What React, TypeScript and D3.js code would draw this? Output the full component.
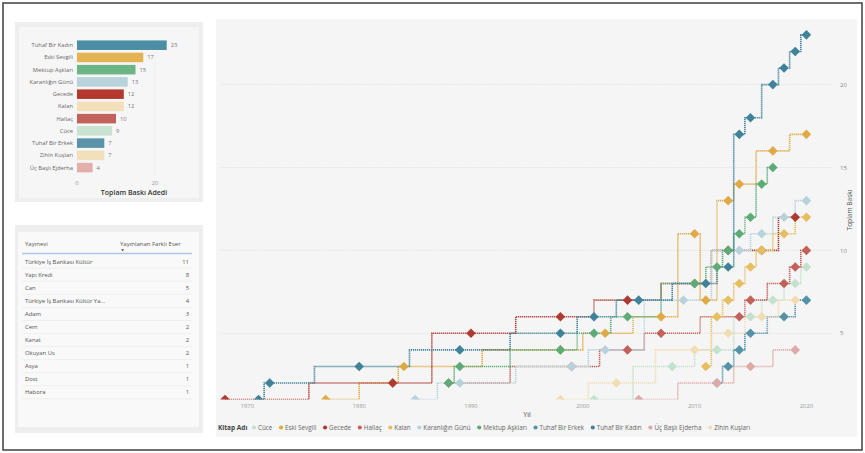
import React from "react";
import * as d3 from "d3";

// ---------- Bar chart data ----------
const barCategories = ["Tuhaf Bir Kadın", "Eski Sevgili", "Mektup Aşkları", "Karanlığın Günü", "Gecede", "Kalan", "Hallaç", "Cüce", "Tuhaf Bir Erkek", "Zihin Kuşları", "Üç Başlı Ejderha"];
const barValues = [23, 17, 15, 13, 12, 12, 10, 9, 7, 7, 4];
const barTicks = [0, 20];

// ---------- Table data ----------
const publishers = ["Türkiye İş Bankası Kültür", "Yapı Kredi", "Can", "Türkiye İş Bankası Kültür Ya...", "Adam", "Cem", "Kanat", "Okuyan Us", "Asya", "Dost", "Habora"];
const publisherCounts = [11, 8, 5, 4, 3, 2, 2, 2, 1, 1, 1];

// ---------- Line chart data (year, Toplam Baskı) ----------
const seriesNames = ["Cüce", "Eski Sevgili", "Gecede", "Hallaç", "Kalan", "Karanlığın Günü", "Mektup Aşkları", "Tuhaf Bir Erkek", "Tuhaf Bir Kadın", "Üç Başlı Ejderha", "Zihin Kuşları"];
const cuce = [[2001, 1], [2008, 3], [2012, 4], [2015, 6], [2017, 7], [2019, 8], [2020, 9]];
const eskiSevgili = [[1977, 1], [1983, 2], [1984, 3], [1998, 4], [2002, 5], [2007, 6], [2010, 11], [2011, 7], [2013, 13], [2014, 14], [2017, 16], [2020, 17]];
const gecede = [[1968, 1], [1983, 2], [1990, 5], [1998, 6], [2004, 7], [2010, 8], [2013, 10], [2016, 10], [2019, 12]];
const hallac = [[1988, 2], [1999, 3], [2004, 4], [2007, 5], [2014, 6], [2015, 7], [2018, 8], [2019, 9], [2020, 10]];
const kalan = [[2011, 3], [2012, 6], [2013, 7], [2014, 8], [2015, 9], [2016, 10], [2018, 11], [2020, 12]];
const karanligin = [[1985, 1], [1989, 2], [1999, 3], [2002, 4], [2009, 7], [2014, 10], [2016, 11], [2018, 12], [2020, 13]];
const mektup = [[1988, 2], [1989, 3], [1998, 4], [2001, 5], [2004, 6], [2010, 8], [2012, 9], [2013, 10], [2014, 11], [2015, 12], [2016, 14], [2017, 15]];
const tuhafErkek = [[2012, 2], [2013, 3], [2014, 4], [2015, 5], [2018, 6], [2020, 7]];
const tuhafKadin = [[1971, 1], [1972, 2], [1980, 3], [1989, 4], [1998, 5], [2001, 6], [2005, 7], [2011, 8], [2013, 9], [2014, 17], [2015, 18], [2017, 20], [2018, 21], [2019, 22], [2020, 23]];
const ucBasli = [[2005, 1], [2012, 2], [2015, 3], [2019, 4]];
const zihin = [[1998, 1], [2003, 2], [2010, 4], [2013, 5], [2016, 6], [2019, 7]];
const seriesData = [cuce, eskiSevgili, gecede, hallac, kalan, karanligin, mektup, tuhafErkek, tuhafKadin, ucBasli, zihin];

const xTicks = [1970, 1980, 1990, 2000, 2010, 2020];
const yTicks = [5, 10, 15, 20];

const lineColors: Record<string, string> = {
  "Cüce": "#c3e1cc",
  "Eski Sevgili": "#dfaa45",
  "Gecede": "#ae3b31",
  "Hallaç": "#c2605a",
  "Kalan": "#e6bd5f",
  "Karanlığın Günü": "#b8d2dc",
  "Mektup Aşkları": "#5dab77",
  "Tuhaf Bir Erkek": "#5592a8",
  "Tuhaf Bir Kadın": "#3f8299",
  "Üç Başlı Ejderha": "#e0a9a7",
  "Zihin Kuşları": "#f1ddb4",
};
const barColors: Record<string, string> = {
  "Tuhaf Bir Kadın": "#4b8ea5",
  "Eski Sevgili": "#e4b452",
  "Mektup Aşkları": "#6cb584",
  "Karanlığın Günü": "#b9d3dd",
  "Gecede": "#b3392f",
  "Kalan": "#f3e0ba",
  "Hallaç": "#c3625b",
  "Cüce": "#c8e4d0",
  "Tuhaf Bir Erkek": "#5b93a9",
  "Zihin Kuşları": "#f2dfbb",
  "Üç Başlı Ejderha": "#e3afad",
};

const FONT = "'Open Sans', 'Noto Sans', sans-serif";

function measure(text: string, size: number, weight = "normal") {
  if (typeof document === "undefined") return text.length * size * 0.5;
  const c = document.createElement("canvas");
  const ctx = c.getContext("2d");
  if (!ctx) return text.length * size * 0.5;
  ctx.font = `${weight} ${size}px 'Open Sans'`;
  return ctx.measureText(text).width;
}

function BarPanel() {
  const x = d3.scaleLinear().domain([0, 20]).range([77, 155]);
  const y = d3.scaleBand().domain(barCategories).range([39.2, 173.6]).paddingInner(0.22).paddingOuter(0.1);
  return (
    <g>
      <rect x={15} y={22} width={188} height={180} fill="#eeeeee" />
      <rect x={19} y={27} width={180} height={171} fill="#f6f6f6" />
      {barTicks.map((t) => (
        <line key={t} x1={x(t)} x2={x(t)} y1={38} y2={176} stroke="#e6e6e6" strokeWidth={0.6} strokeDasharray="1,1" />
      ))}
      {barCategories.map((c, i) => (
        <g key={c}>
          <rect x={x(0)} y={y(c)} width={x(barValues[i]) - x(0)} height={y.bandwidth()} fill={barColors[c]} />
          <text x={73} y={(y(c) as number) + y.bandwidth() / 2} dy="0.35em" textAnchor="end" fontSize={5.8} fill="#666" fontFamily={FONT}>{c}</text>
          <text x={x(barValues[i]) + 4} y={(y(c) as number) + y.bandwidth() / 2} dy="0.35em" fontSize={5.8} fill="#777" fontFamily={FONT}>{barValues[i]}</text>
        </g>
      ))}
      {barTicks.map((t) => (
        <text key={t} x={x(t)} y={184.5} textAnchor="middle" fontSize={5.8} fill="#999" fontFamily={FONT}>{t}</text>
      ))}
      <text x={134} y={194.5} textAnchor="middle" fontSize={7} fill="#333" fontFamily={FONT} fontWeight={600}>Toplam Baskı Adedi</text>
    </g>
  );
}

function TablePanel() {
  const rowY = d3.scaleLinear().domain([0, 1]).range([261.7, 274.76]);
  return (
    <g>
      <rect x={15} y={225} width={188} height={208} fill="#eeeeee" />
      <rect x={18} y={232} width={181} height={195} fill="#f9f9f9" />
      <text x={25} y={246} fontSize={6} fill="#555" fontFamily={FONT}>Yayınevi</text>
      <text x={120} y={246} fontSize={6} fill="#555" fontFamily={FONT}>Yayınlanan Farklı Eser</text>
      <path d="M121.2,249.3 L124.2,249.3 L122.7,251.3 Z" fill="#444" />
      <line x1={22} x2={192} y1={253.5} y2={253.5} stroke="#a9c9ee" strokeWidth={1.3} />
      {publishers.map((p, i) => (
        <g key={p}>
          <text x={25} y={rowY(i)} dy="0.35em" fontSize={5.9} fill="#555" fontFamily={FONT}>{p}</text>
          <text x={189} y={rowY(i)} dy="0.35em" textAnchor="end" fontSize={5.9} fill="#555" fontFamily={FONT}>{publisherCounts[i]}</text>
          <line x1={22} x2={192} y1={rowY(i) + 6.5} y2={rowY(i) + 6.5} stroke="#e9e9e9" strokeWidth={0.6} />
        </g>
      ))}
    </g>
  );
}

function LinePanel() {
  const x = d3.scaleLinear().domain([1968, 2020]).range([225, 806.4]);
  const y = d3.scaleLinear().domain([5, 20]).range([333.3, 84.6]);
  const plotLeft = 219;
  const plotRight = 834;
  const plotTop = 22;
  const plotBottom = y(1);
  const line = d3.line<number[]>().x((d) => x(d[0])).y((d) => y(d[1])).curve(d3.curveStep);
  const r = 4.8;
  const diamond = (cx: number, cy: number) => `M${cx},${cy - r}L${cx + r},${cy}L${cx},${cy + r}L${cx - r},${cy}Z`;

  // legend layout
  const legendY = 427.5;
  const legendSize = 6.3;
  let lx = 218;
  const titleW = measure("Kitap Adı", 6.5, "bold");
  lx += titleW + 4;
  const legendItems = seriesNames.map((n) => {
    const item = { name: n, cx: lx + 2.5, tx: lx + 6.5 };
    lx += 6.5 + measure(n, legendSize) + 6.2;
    return item;
  });

  return (
    <g>
      <rect x={216} y={19} width={641} height={418} fill="#f5f5f5" />
      <defs>
        <clipPath id="plotClip">
          <rect x={plotLeft} y={plotTop} width={plotRight - plotLeft} height={plotBottom - plotTop} />
        </clipPath>
      </defs>
      {yTicks.map((t) => (
        <g key={t}>
          <line x1={220} x2={833} y1={y(t)} y2={y(t)} stroke="#dcdcdc" strokeWidth={0.8} strokeDasharray="1,1.2" />
          <text x={840} y={y(t)} dy="0.35em" fontSize={6} fill="#888" fontFamily={FONT}>{t}</text>
        </g>
      ))}
      <text transform={`translate(851.5,210) rotate(-90)`} textAnchor="middle" fontSize={6.6} fill="#555" fontFamily={FONT}>Toplam Baskı</text>
      <g clipPath="url(#plotClip)">
        {seriesNames.map((n, i) => (
          <path key={n} d={line(seriesData[i]) || ""} fill="none" stroke={lineColors[n]} strokeWidth={1.6} strokeDasharray="1.2,0.8" />
        ))}
        {seriesNames.map((n, i) => (
          <g key={n}>
            {seriesData[i].map((d, j) => (
              <path key={j} d={diamond(x(d[0]), y(d[1]))} fill={lineColors[n]} />
            ))}
          </g>
        ))}
      </g>
      {xTicks.map((t) => (
        <text key={t} x={x(t)} y={408} textAnchor="middle" fontSize={5.8} fill="#999" fontFamily={FONT}>{t}</text>
      ))}
      <text x={527} y={416.5} textAnchor="middle" fontSize={7} fill="#444" fontFamily={FONT}>Yıl</text>
      <text x={218} y={legendY} dy="0.35em" fontSize={6.5} fontWeight="bold" fill="#444" fontFamily={FONT}>Kitap Adı</text>
      {legendItems.map((it) => (
        <g key={it.name}>
          <circle cx={it.cx} cy={legendY} r={2.1} fill={lineColors[it.name]} />
          <text x={it.tx} y={legendY} dy="0.35em" fontSize={legendSize} fill="#666" fontFamily={FONT}>{it.name}</text>
        </g>
      ))}
    </g>
  );
}

export default function App() {
  return (
    <svg width={865} height={453} style={{ position: "absolute", left: 0, top: 0, display: "block", background: "#fff" }}>
      <rect x={3} y={3} width={859} height={447} fill="#fff" stroke="#4a4a4a" strokeWidth={1.6} />
      <BarPanel />
      <TablePanel />
      <LinePanel />
    </svg>
  );
}
